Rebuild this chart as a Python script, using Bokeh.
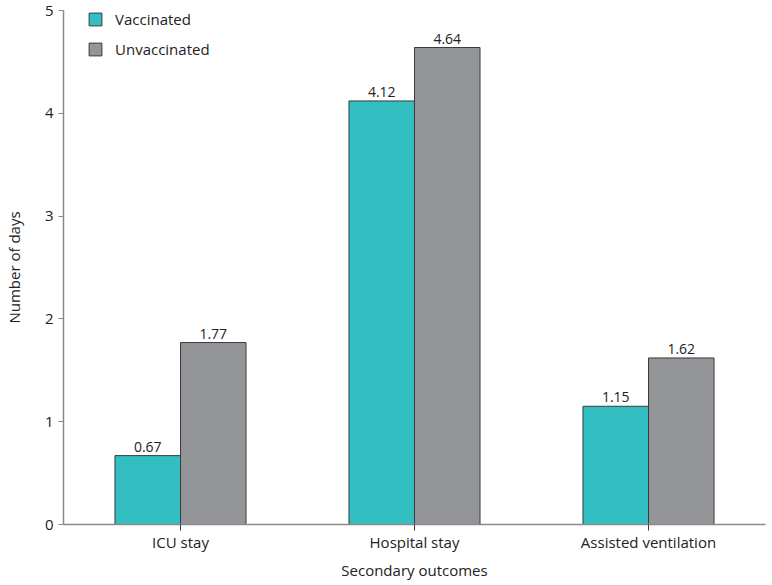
from bokeh.plotting import figure
from bokeh.models import ColumnDataSource, FactorRange, Range1d, Legend, LegendItem, LabelSet
from bokeh.transform import dodge
from bokeh.core.properties import value
from bokeh.embed import file_html
from bokeh.resources import INLINE

categories = ["ICU stay", "Hospital stay", "Assisted ventilation"]
vaccinated = [0.67, 4.12, 1.15]
unvaccinated = [1.77, 4.64, 1.62]
series_names = ["Vaccinated", "Unvaccinated"]
y_ticks = [0, 1, 2, 3, 4, 5]

FONT = "Open Sans"
TEAL = "#33bec2"
GREY = "#939598"
EDGE = "#3a3a3a"
AXIS = "#8a8a8a"
FRAME_H = 514

src = ColumnDataSource(dict(
    cat=categories,
    vacc=vaccinated,
    unvacc=unvaccinated,
    vacc_lbl=[f"{v:.2f}" for v in vaccinated],
    unvacc_lbl=[f"{v:.2f}" for v in unvaccinated],
))

p = figure(x_range=FactorRange(factors=categories, range_padding=0),
           y_range=Range1d(0, 5),
           frame_width=702, frame_height=FRAME_H, output_backend="svg", toolbar_location=None,
           min_border_left=0, min_border_right=2, min_border_top=10, min_border_bottom=0)
p.outline_line_color = None
p.xgrid.visible = False
p.ygrid.visible = False

r1 = p.vbar(x=dodge("cat", -0.14, range=p.x_range), top="vacc", width=0.28, source=src,
            fill_color=TEAL, line_color=EDGE, line_width=1)
r2 = p.vbar(x=dodge("cat", 0.14, range=p.x_range), top="unvacc", width=0.28, source=src,
            fill_color=GREY, line_color=EDGE, line_width=1)

for xo, col, lcol in [(-0.14, "vacc", "vacc_lbl"), (0.14, "unvacc", "unvacc_lbl")]:
    lbl = LabelSet(x=dodge("cat", xo, range=p.x_range), y=col, text=lcol, source=src,
                   text_align="center", text_baseline="bottom", y_offset=4,
                   text_font=value(FONT), text_font_size=value("14px"), text_color="#222222")
    p.add_layout(lbl)

p.yaxis.ticker = y_ticks
p.yaxis.axis_label = "Number of days"
p.xaxis.axis_label = "Secondary outcomes"
for ax in (p.xaxis[0], p.yaxis[0]):
    ax.axis_label_text_font = FONT
    ax.axis_label_text_font_size = "15px"
    ax.axis_label_text_font_style = "normal"
    ax.axis_label_text_color = "#222222"
    ax.major_label_text_font = FONT
    ax.major_label_text_font_size = "15px"
    ax.major_label_text_color = "#222222"
    ax.axis_line_color = AXIS
    ax.axis_line_width = 1.5
    ax.minor_tick_line_color = None
    ax.major_tick_in = 0

p.yaxis.major_tick_out = 5
p.yaxis.major_tick_line_color = AXIS
p.yaxis.major_label_standoff = 5
p.yaxis.axis_label_standoff = 18
p.xaxis.major_tick_out = 6
p.xaxis.major_tick_line_color = EDGE
p.xaxis.major_label_standoff = 1
p.xaxis.axis_label_standoff = 5

legend = Legend(items=[LegendItem(label=series_names[0], renderers=[r1]),
                       LegendItem(label=series_names[1], renderers=[r2])],
                orientation="vertical")
legend.margin = 0
legend.padding = 0
legend.border_line_color = None
legend.background_fill_alpha = 0
legend.glyph_width = 16
legend.glyph_height = 16
legend.label_height = 20
legend.spacing = 10
legend.label_standoff = 12
legend.label_text_font = FONT
legend.label_text_font_size = "15px"
legend.label_text_color = "#222222"
legend.location = (24, FRAME_H - 49)
p.add_layout(legend)

open("out.html", "w").write(file_html(p, INLINE))
